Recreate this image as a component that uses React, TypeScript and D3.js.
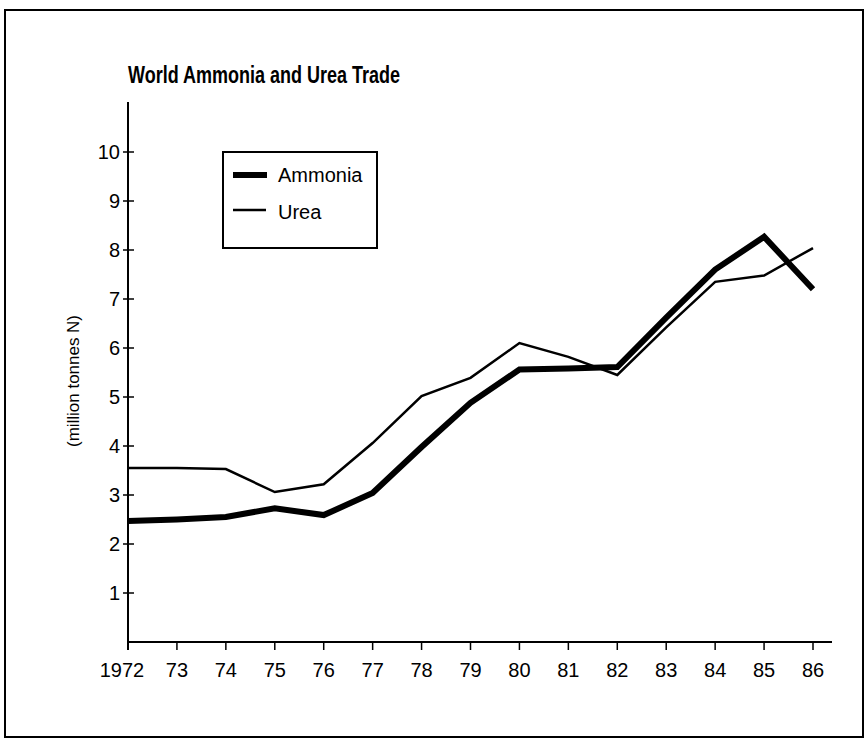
import * as d3 from 'd3';

const W = 867;
const H = 741;

// values (million tonnes N)
const years = [1972, 1973, 1974, 1975, 1976, 1977, 1978, 1979, 1980, 1981, 1982, 1983, 1984, 1985, 1986];
const yearLabels = ['1972', '73', '74', '75', '76', '77', '78', '79', '80', '81', '82', '83', '84', '85', '86'];
const ammonia = [2.47, 2.5, 2.55, 2.73, 2.59, 3.04, 3.98, 4.88, 5.56, 5.58, 5.61, 6.62, 7.6, 8.27, 7.2];
const urea = [3.55, 3.55, 3.53, 3.06, 3.22, 4.06, 5.02, 5.39, 6.1, 5.82, 5.45, 6.42, 7.35, 7.48, 8.04];
const yTicks = [1, 2, 3, 4, 5, 6, 7, 8, 9, 10];

const font = '"Liberation Sans", Arial, sans-serif';

export default function App() {
  const x = d3.scaleLinear().domain([1972, 1986]).range([128, 813]);
  const y = d3.scaleLinear().domain([0, 10]).range([642, 152]);

  const line = d3
    .line<number>()
    .x((_, i) => x(years[i]))
    .y((d) => y(d));

  return (
    <svg
      width={W}
      height={H}
      style={{ position: 'absolute', left: 0, top: 0, background: '#fff' }}
    >
      {/* frame */}
      <rect x={5} y={10} width={858} height={727} fill="none" stroke="#000" strokeWidth={2} />

      <text x={128} y={83} fontFamily={font} fontWeight="bold" fontSize={23} textLength={272} lengthAdjust="spacingAndGlyphs">
        World Ammonia and Urea Trade
      </text>

      {/* y axis */}
      <line x1={x(1972)} x2={x(1972)} y1={102} y2={650} stroke="#000" strokeWidth={2} />
      {yTicks.map((t) => (
        <g key={t}>
          <line x1={x(1972) - 5} x2={x(1972) + 6} y1={y(t)} y2={y(t)} stroke="#000" strokeWidth={1.5} />
          <text x={120} y={y(t) + 7} textAnchor="end" fontFamily={font} fontSize={20}>
            {t}
          </text>
        </g>
      ))}
      <text
        transform={`translate(79,381) rotate(-90)`}
        textAnchor="middle"
        fontFamily={font}
        fontSize={17}
        textLength={132}
        lengthAdjust="spacingAndGlyphs"
      >
        (million tonnes N)
      </text>

      {/* x axis */}
      <line x1={x(1972)} x2={832} y1={y(0)} y2={y(0)} stroke="#000" strokeWidth={2} />
      {years.map((yr, i) => (
        <g key={yr}>
          <line x1={x(yr)} x2={x(yr)} y1={y(0)} y2={y(0) + 8} stroke="#000" strokeWidth={1.5} />
          <text
            x={x(yr) + (i === 0 ? -6 : 0)}
            y={677}
            textAnchor="middle"
            fontFamily={font}
            fontSize={20}
          >
            {yearLabels[i]}
          </text>
        </g>
      ))}

      {/* series */}
      <path d={line(urea) ?? ''} fill="none" stroke="#000" strokeWidth={2.5} strokeLinejoin="miter" />
      <path d={line(ammonia) ?? ''} fill="none" stroke="#000" strokeWidth={6} strokeLinejoin="miter" />

      {/* legend */}
      <rect x={223} y={152} width={154} height={96} fill="#fff" stroke="#000" strokeWidth={2} />
      <line x1={233} x2={267} y1={175} y2={175} stroke="#000" strokeWidth={6} />
      <line x1={233} x2={266} y1={210} y2={210} stroke="#000" strokeWidth={2.5} />
      <text x={278} y={182} fontFamily={font} fontSize={20}>
        Ammonia
      </text>
      <text x={278} y={219} fontFamily={font} fontSize={20}>
        Urea
      </text>
    </svg>
  );
}
